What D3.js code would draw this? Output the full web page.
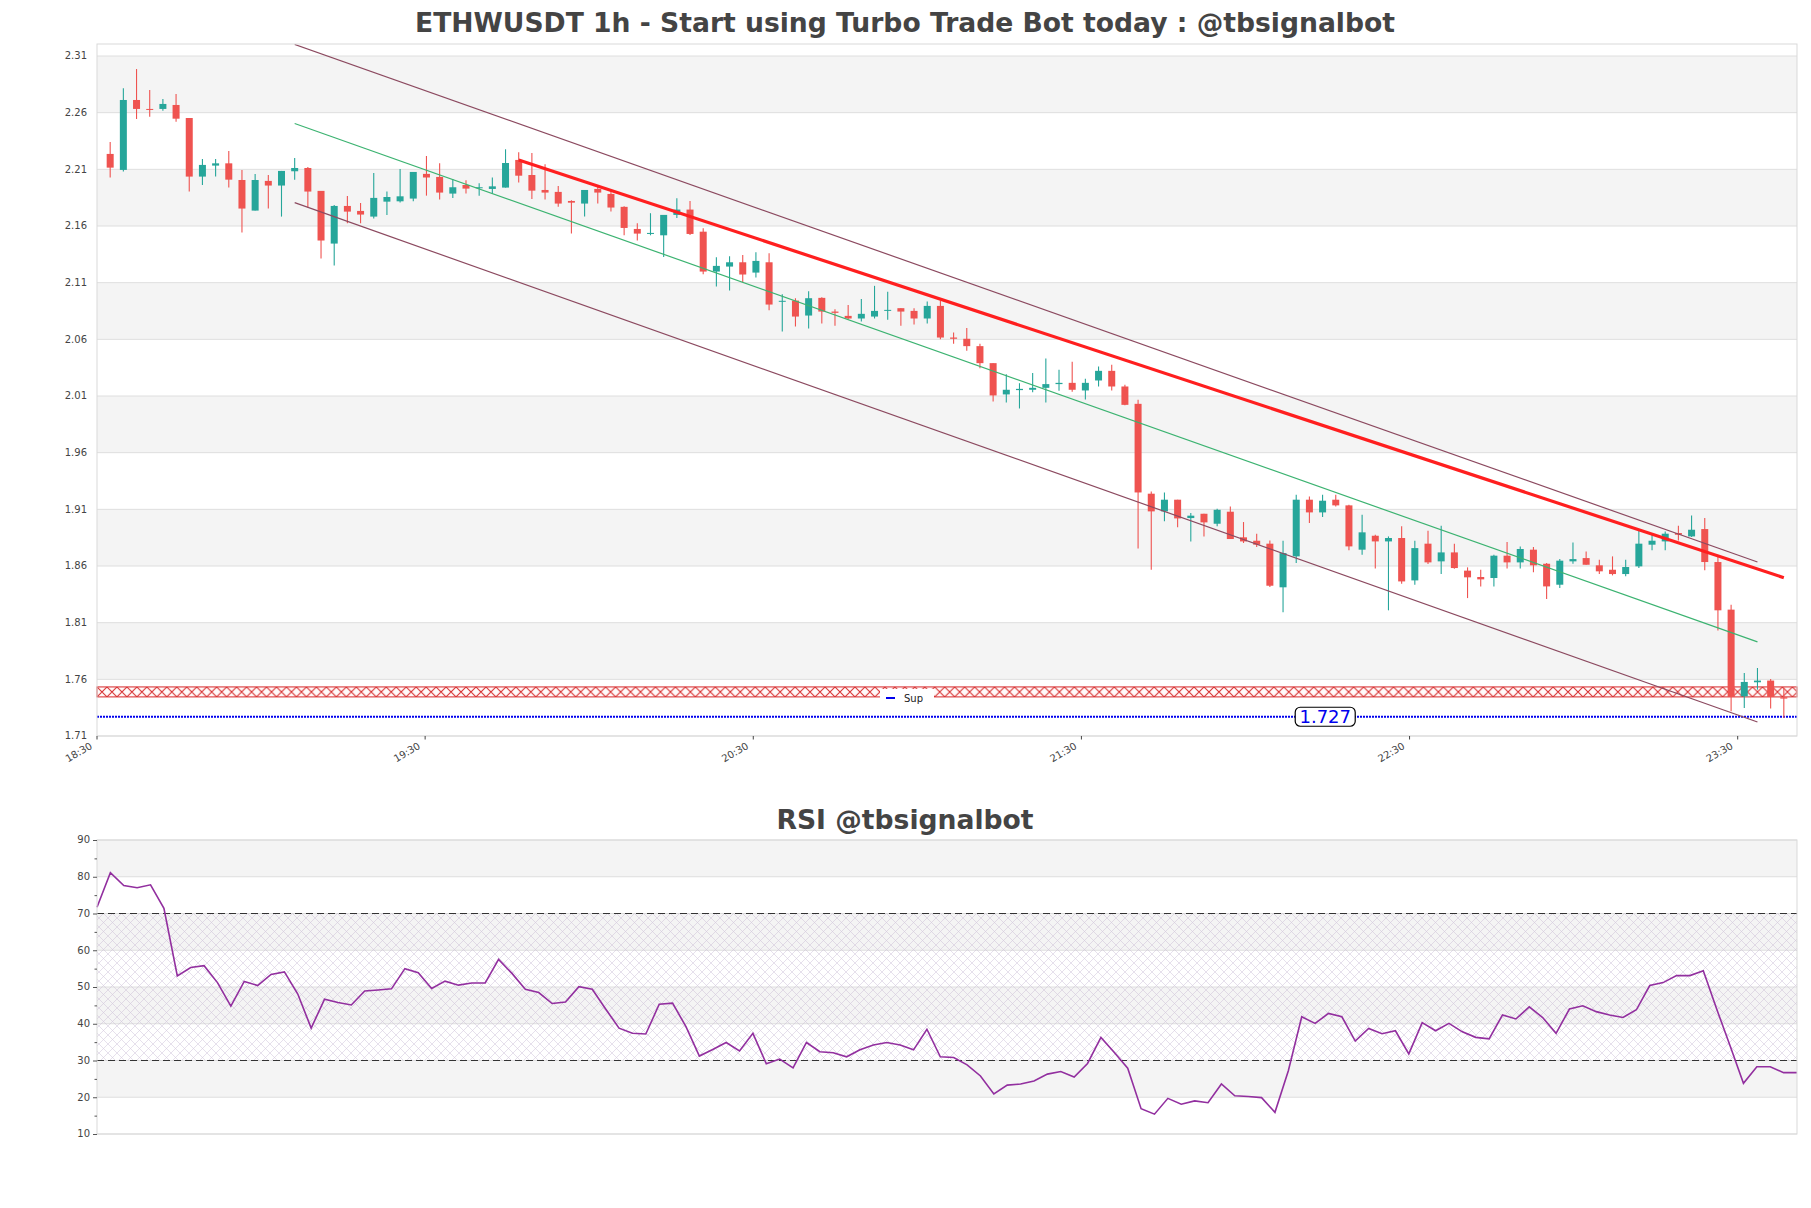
<!DOCTYPE html>
<html>
<head>
<meta charset="utf-8">
<script src="https://cdn.jsdelivr.net/npm/d3@7/dist/d3.min.js"></script>
<style>
  body { margin: 0; background: #fff; }
  svg { font-family: "DejaVu Sans", sans-serif; }
</style>
</head>
<body>
<svg id="chart" width="1811" height="1208"></svg>
<script>
const opens = [2.2236,2.2095,2.2712,2.2633,2.2633,2.2668,2.2553,2.2036,2.2133,2.2153,2.2006,2.1736,2.1998,2.1957,2.2083,2.2112,2.1910,2.1445,2.1777,2.1733,
  2.1683,2.1815,2.1818,2.1842,2.2060,2.2033,2.1886,2.1962,2.1933,2.1927,2.1939,2.2183,2.2050,2.1918,2.1901,2.1821,2.1798,2.1927,2.1883,2.1769,
  2.1574,2.1530,2.1518,2.1698,2.1745,2.1550,2.1198,2.1242,2.1280,2.1189,2.1280,2.0934,2.0942,2.0810,2.0966,2.0845,2.0807,2.0784,2.0801,2.0854,
  2.0875,2.0851,2.0784,2.0895,2.0616,2.0605,2.0540,2.0390,2.0114,2.0152,2.0155,2.0172,2.0205,2.0216,2.0149,2.0237,2.0322,2.0184,2.0031,1.9238,
  1.9082,1.9185,1.9023,1.9061,1.8973,1.9079,1.8853,1.8823,1.8797,1.8412,1.8685,1.9185,1.9073,1.9185,1.9135,1.8744,1.8867,1.8817,1.8847,1.8473,
  1.8797,1.8641,1.8720,1.8559,1.8503,1.8494,1.8691,1.8632,1.8744,1.8620,1.8435,1.8641,1.8670,1.8606,1.8567,1.8529,1.8597,1.8788,1.8817,1.8891,
  1.8861,1.8926,1.8635,1.8215,1.7450,1.7574,1.7589,1.7442];
const highs = [2.2342,2.2815,2.2985,2.2800,2.2721,2.2765,2.2553,2.2192,2.2192,2.2262,2.2095,2.2060,2.2051,2.2086,2.2200,2.2121,2.1910,2.1786,2.1865,2.1804,
  2.2068,2.1904,2.2104,2.2077,2.2218,2.2153,2.2015,2.2003,2.1977,2.2027,2.2277,2.2250,2.2245,2.2145,2.1954,2.1827,2.1918,2.1954,2.1918,2.1775,
  2.1624,2.1713,2.1698,2.1845,2.1820,2.1580,2.1325,2.1333,2.1345,2.1369,2.1360,2.0998,2.0963,2.1025,2.0972,2.0866,2.0904,2.0957,2.1072,2.1019,
  2.0875,2.0875,2.0934,2.0940,2.0660,2.0700,2.0560,2.0390,2.0293,2.0213,2.0302,2.0430,2.0331,2.0402,2.0252,2.0360,2.0375,2.0199,2.0066,1.9258,
  1.9249,1.9185,1.9067,1.9061,1.9105,1.9126,1.8988,1.8885,1.8826,1.8823,1.9229,1.9214,1.9229,1.9229,1.9141,1.9052,1.8876,1.8861,1.8950,1.8823,
  1.8911,1.8955,1.8797,1.8588,1.8567,1.8700,1.8811,1.8773,1.8767,1.8626,1.8661,1.8808,1.8729,1.8656,1.8685,1.8656,1.8920,1.8882,1.8905,1.8955,
  1.9046,1.9023,1.8685,1.8259,1.7656,1.7700,1.7603,1.7524];
const lows = [2.2027,2.2080,2.2544,2.2565,2.2618,2.2521,2.1904,2.1962,2.2036,2.1939,2.1542,2.1736,2.1754,2.1683,2.2009,2.1763,2.1313,2.1251,2.1624,2.1624,
  2.1666,2.1698,2.1807,2.1818,2.1868,2.1833,2.1848,2.1886,2.1868,2.1886,2.1939,2.1983,2.1839,2.1833,2.1771,2.1533,2.1683,2.1798,2.1727,2.1518,
  2.1472,2.1518,2.1327,2.1670,2.1520,2.1175,2.1066,2.1031,2.1104,2.1145,2.0857,2.0669,2.0713,2.0696,2.0740,2.0719,2.0778,2.0757,2.0784,2.0772,
  2.0719,2.0731,2.0740,2.0600,2.0560,2.0500,2.0346,2.0052,2.0043,1.9990,2.0134,2.0043,2.0146,2.0137,2.0069,2.0184,2.0149,2.0019,1.8755,1.8567,
  1.8994,1.8941,1.8817,1.8861,1.8950,1.8838,1.8803,1.8767,1.8415,1.8191,1.8626,1.8979,1.9032,1.9126,1.8738,1.8700,1.8579,1.8209,1.8444,1.8435,
  1.8617,1.8529,1.8576,1.8317,1.8420,1.8420,1.8579,1.8579,1.8544,1.8309,1.8406,1.8620,1.8611,1.8529,1.8517,1.8509,1.8582,1.8738,1.8738,1.8826,
  1.8855,1.8562,1.8032,1.7318,1.7348,1.7509,1.7342,1.7259];
const closes = [2.2115,2.2712,2.2633,2.2628,2.2677,2.2547,2.2036,2.2139,2.2153,2.2009,2.1754,2.2006,2.1957,2.2086,2.2112,2.1904,2.1472,2.1777,2.1727,2.1701,
  2.1848,2.1856,2.1862,2.2077,2.2028,2.1895,2.1942,2.1930,2.1942,2.1950,2.2156,2.2044,2.1912,2.1895,2.1798,2.1806,2.1918,2.1895,2.1763,2.1583,
  2.1533,2.1539,2.1698,2.1745,2.1530,2.1198,2.1248,2.1280,2.1172,2.1292,2.0907,2.0940,2.0801,2.0963,2.0845,2.0834,2.0784,2.0825,2.0851,2.0860,
  2.0845,2.0784,2.0895,2.0616,2.0605,2.0540,2.0390,2.0105,2.0155,2.0163,2.0172,2.0205,2.0216,2.0155,2.0216,2.0322,2.0184,2.0022,1.9249,1.9082,
  1.9185,1.9020,1.9044,1.8985,1.9096,1.8838,1.8817,1.8788,1.8426,1.8714,1.9185,1.9073,1.9176,1.9135,1.8773,1.8897,1.8817,1.8847,1.8464,1.8758,
  1.8632,1.8720,1.8582,1.8500,1.8482,1.8691,1.8632,1.8750,1.8606,1.8420,1.8647,1.8661,1.8611,1.8553,1.8529,1.8591,1.8797,1.8823,1.8885,1.8876,
  1.8920,1.8635,1.8209,1.7444,1.7577,1.7589,1.7444,1.7430];

const rsiValues = [71.7,81.1,77.6,77.0,77.8,71.4,53.0,55.3,55.8,51.2,44.8,51.5,50.4,53.4,54.1,48.1,38.8,46.7,45.8,45.1,
  48.9,49.2,49.5,55.0,53.9,49.6,51.6,50.5,51.1,51.1,57.5,53.7,49.4,48.5,45.5,45.9,50.1,49.4,44.0,38.8,
  37.4,37.2,45.3,45.6,39.2,31.2,33.0,34.9,32.6,37.4,29.1,30.4,28.0,34.9,32.4,32.1,31.0,32.9,34.2,34.9,
  34.2,32.9,38.5,31.0,30.8,28.8,25.8,20.9,23.3,23.6,24.4,26.3,27.0,25.5,29.2,36.3,32.2,27.9,16.9,15.4,
  19.7,18.1,19.0,18.5,23.6,20.4,20.2,19.9,15.9,27.2,41.9,40.1,42.8,41.9,35.3,38.7,37.3,38.1,31.8,40.3,
  38.1,40.1,37.8,36.3,35.9,42.4,41.3,44.6,41.7,37.4,44.0,44.9,43.3,42.4,41.7,43.8,50.4,51.2,53.1,53.1,
  54.4,44.0,34.0,23.8,28.3,28.3,26.7,26.7];

const priceTicks = [1.71,1.76,1.81,1.86,1.91,1.96,2.01,2.06,2.11,2.16,2.21,2.26,2.31];
const rsiTicks = [10,20,30,40,50,60,70,80,90];
const hourLabels = ["18:30","19:30","20:30","21:30","22:30","23:30"];
const hourTickIdx = [-1,23.9,48.8,73.7,98.6,123.5];

// channel lines: [startIdx, endIdx] and prices at each end
const channelIdx = [14,125];
const channelUpper = [2.3202,1.8635];
const channelMid = [2.2504,1.7930];
const channelLower = [2.1806,1.7224];
const resistIdx = [31,127];
const resistPrice = [2.2183,1.8497];
const supportZone = [1.7445,1.7533];
const supportLevel = 1.727;
const supportLabelIdx = 92.2;
const rsiOverbought = 70, rsiOversold = 30;

const svg = d3.select("#chart");
const defs = svg.append("defs");

const main = { left: 97, right: 1797, top: 44, bottom: 736 };
const lower = { left: 97, right: 1797, top: 840, bottom: 1134 };

const x = d3.scaleLinear().domain([-1, opens.length]).range([main.left, main.right]);
const y = d3.scaleLinear().domain([1.71, 2.3206]).range([main.bottom, main.top]);
const x2 = d3.scaleLinear().domain([0, rsiValues.length - 1]).range([lower.left, lower.right]);
const y2 = d3.scaleLinear().domain([10, 90]).range([lower.bottom, lower.top]);

defs.append("clipPath").attr("id", "clipMain")
  .append("rect")
  .attr("x", main.left).attr("y", main.top)
  .attr("width", main.right - main.left).attr("height", main.bottom - main.top);

// ---------- title ----------
svg.append("text")
  .attr("x", 905).attr("y", 32)
  .attr("text-anchor", "middle")
  .attr("font-size", 26.6).attr("font-weight", "bold").attr("fill", "#444")
  .text("ETHWUSDT 1h - Start using Turbo Trade Bot today : @tbsignalbot");

// ---------- main panel ----------
const gMain = svg.append("g");

gMain.selectAll(".band")
  .data(priceTicks.slice(0, -1).map((t, i) => [t, priceTicks[i + 1], i]))
  .enter().append("rect")
  .attr("class", "band")
  .attr("x", main.left).attr("width", main.right - main.left)
  .attr("y", (d) => y(d[1]))
  .attr("height", (d) => y(d[0]) - y(d[1]))
  .attr("fill", (d) => (d[2] % 2 === 1 ? "#f4f4f4" : "#fff"));

gMain.selectAll(".grid")
  .data(priceTicks)
  .enter().append("line")
  .attr("x1", main.left).attr("x2", main.right)
  .attr("y1", (d) => y(d)).attr("y2", (d) => y(d))
  .attr("stroke", "#dedede").attr("stroke-width", 1);

// support zone, red x hatch
const zTop = y(supportZone[1]);
const zH = y(supportZone[0]) - zTop;
const zp = defs.append("pattern")
  .attr("id", "xhatch")
  .attr("patternUnits", "userSpaceOnUse")
  .attr("x", main.left).attr("y", zTop)
  .attr("width", zH).attr("height", zH);
zp.append("rect").attr("width", zH).attr("height", zH).attr("fill", "#fffafa");
zp.append("path")
  .attr("d", `M0,0L${zH},${zH}M${zH},0L0,${zH}`)
  .attr("stroke", "#d62728").attr("stroke-width", 1).attr("fill", "none");

gMain.append("rect")
  .attr("x", main.left).attr("width", main.right - main.left)
  .attr("y", zTop).attr("height", zH)
  .attr("fill", "url(#xhatch)")
  .attr("stroke", "#d62728").attr("stroke-width", 1);

// support line
gMain.append("line")
  .attr("x1", main.left).attr("x2", main.right)
  .attr("y1", y(supportLevel)).attr("y2", y(supportLevel))
  .attr("stroke", "#0000ee").attr("stroke-width", 2)
  .attr("stroke-dasharray", "2,1");

// candles
const candles = opens.map((o, i) => ({ i, o, h: highs[i], l: lows[i], c: closes[i] }));
const up = "#26a69a", down = "#ef5350";
const cg = gMain.append("g").attr("clip-path", "url(#clipMain)");

cg.selectAll(".wick")
  .data(candles)
  .enter().append("line")
  .attr("x1", (d) => x(d.i)).attr("x2", (d) => x(d.i))
  .attr("y1", (d) => y(d.h)).attr("y2", (d) => y(d.l))
  .attr("stroke", (d) => (d.c >= d.o ? up : down))
  .attr("stroke-width", 1.1);

cg.selectAll(".body")
  .data(candles)
  .enter().append("rect")
  .attr("x", (d) => x(d.i) - 3.5)
  .attr("width", 7)
  .attr("y", (d) => y(Math.max(d.o, d.c)))
  .attr("height", (d) => Math.max(1, Math.abs(y(d.o) - y(d.c))))
  .attr("fill", (d) => (d.c >= d.o ? up : down));

// channel + resistance
const trend = [
  { p: channelUpper, idx: channelIdx, color: "#8c4a60", w: 1.2 },
  { p: channelMid, idx: channelIdx, color: "#3cb371", w: 1.2 },
  { p: channelLower, idx: channelIdx, color: "#8c4a60", w: 1.2 },
  { p: resistPrice, idx: resistIdx, color: "#ff1f1f", w: 3.2 },
];
cg.selectAll(".trend")
  .data(trend)
  .enter().append("line")
  .attr("x1", (d) => x(d.idx[0])).attr("x2", (d) => x(d.idx[1]))
  .attr("y1", (d) => y(d.p[0])).attr("y2", (d) => y(d.p[1]))
  .attr("stroke", (d) => d.color).attr("stroke-width", (d) => d.w);

// support label
const lab = gMain.append("g")
  .attr("transform", `translate(${x(supportLabelIdx)},${y(supportLevel)})`);
lab.append("rect")
  .attr("x", -30).attr("y", -9.5).attr("width", 60).attr("height", 19)
  .attr("rx", 5)
  .attr("fill", "#fff").attr("stroke", "#000").attr("stroke-width", 1.2);
lab.append("text")
  .attr("text-anchor", "middle").attr("dy", "0.36em")
  .attr("font-size", 18).attr("fill", "#0000ee")
  .text(supportLevel.toFixed(3));

// legend
const leg = gMain.append("g").attr("transform", "translate(880,689)");
leg.append("rect").attr("width", 54).attr("height", 17).attr("fill", "#fff");
leg.append("line")
  .attr("x1", 6).attr("x2", 15).attr("y1", 9).attr("y2", 9)
  .attr("stroke", "#0000ee").attr("stroke-width", 2);
leg.append("text")
  .attr("x", 24).attr("y", 9).attr("dy", "0.35em")
  .attr("font-size", 10).attr("fill", "#222")
  .text("Sup");

gMain.append("rect")
  .attr("x", main.left).attr("y", main.top)
  .attr("width", main.right - main.left).attr("height", main.bottom - main.top)
  .attr("fill", "none").attr("stroke", "#d9d9d9");

// y axis labels
gMain.selectAll(".ylab")
  .data(priceTicks)
  .enter().append("text")
  .attr("x", main.left - 10).attr("y", (d) => y(d)).attr("dy", "0.33em")
  .attr("text-anchor", "end")
  .attr("font-size", 10).attr("fill", "#444")
  .text((d) => d.toFixed(2));

// x axis labels
gMain.selectAll(".xtick")
  .data(hourTickIdx)
  .enter().append("line")
  .attr("x1", (d) => x(d)).attr("x2", (d) => x(d))
  .attr("y1", main.bottom).attr("y2", main.bottom + 3.5)
  .attr("stroke", "#444");

gMain.selectAll(".xlab")
  .data(hourTickIdx)
  .enter().append("text")
  .attr("transform", (d) => `translate(${x(d) - 4},${main.bottom + 12}) rotate(-30)`)
  .attr("text-anchor", "end")
  .attr("font-size", 10).attr("fill", "#444")
  .text((d, i) => hourLabels[i]);

// ---------- RSI panel ----------
const gRsi = svg.append("g");

svg.append("text")
  .attr("x", 905).attr("y", 829)
  .attr("text-anchor", "middle")
  .attr("font-size", 26.6).attr("font-weight", "bold").attr("fill", "#444")
  .text("RSI @tbsignalbot");

gRsi.selectAll(".band")
  .data(rsiTicks.slice(0, -1).map((t, i) => [t, rsiTicks[i + 1], i]))
  .enter().append("rect")
  .attr("x", lower.left).attr("width", lower.right - lower.left)
  .attr("y", (d) => y2(d[1]))
  .attr("height", (d) => y2(d[0]) - y2(d[1]))
  .attr("fill", (d) => (d[2] % 2 === 1 ? "#f4f4f4" : "#fff"));

gRsi.selectAll(".grid")
  .data(rsiTicks)
  .enter().append("line")
  .attr("x1", lower.left).attr("x2", lower.right)
  .attr("y1", (d) => y2(d)).attr("y2", (d) => y2(d))
  .attr("stroke", "#dedede");

const rp = defs.append("pattern")
  .attr("id", "rsihatch")
  .attr("patternUnits", "userSpaceOnUse")
  .attr("width", 9).attr("height", 9);
rp.append("path")
  .attr("d", "M0,0L9,9M9,0L0,9")
  .attr("stroke", "#c8b8d4").attr("stroke-width", 0.6).attr("fill", "none");

gRsi.append("rect")
  .attr("x", lower.left).attr("width", lower.right - lower.left)
  .attr("y", y2(rsiOverbought)).attr("height", y2(rsiOversold) - y2(rsiOverbought))
  .attr("fill", "url(#rsihatch)").attr("opacity", 0.75);

gRsi.selectAll(".lvl")
  .data([rsiOverbought, rsiOversold])
  .enter().append("line")
  .attr("x1", lower.left).attr("x2", lower.right)
  .attr("y1", (d) => y2(d)).attr("y2", (d) => y2(d))
  .attr("stroke", "#333").attr("stroke-width", 1.1)
  .attr("stroke-dasharray", "7,4");

const rsiLine = d3.line()
  .x((d, i) => x2(i))
  .y((d) => y2(d));

gRsi.append("path")
  .datum(rsiValues)
  .attr("d", rsiLine)
  .attr("fill", "none")
  .attr("stroke", "#922f9f").attr("stroke-width", 1.6);

gRsi.append("rect")
  .attr("x", lower.left).attr("y", lower.top)
  .attr("width", lower.right - lower.left).attr("height", lower.bottom - lower.top)
  .attr("fill", "none").attr("stroke", "#d9d9d9");

gRsi.append("g")
  .attr("transform", `translate(${lower.left},0)`)
  .call(d3.axisLeft(y2).tickValues(d3.range(10, 91, 5)).tickSize(0).tickFormat(""))
  .call((g) => g.select(".domain").remove())
  .selectAll(".tick line")
  .attr("x2", (d) => (d % 10 === 0 ? -4 : -2.5))
  .attr("stroke", "#555");

gRsi.selectAll(".ylab")
  .data(rsiTicks)
  .enter().append("text")
  .attr("x", lower.left - 7).attr("y", (d) => y2(d)).attr("dy", "0.33em")
  .attr("text-anchor", "end")
  .attr("font-size", 10).attr("fill", "#444")
  .text((d) => d);
</script>
</body>
</html>
